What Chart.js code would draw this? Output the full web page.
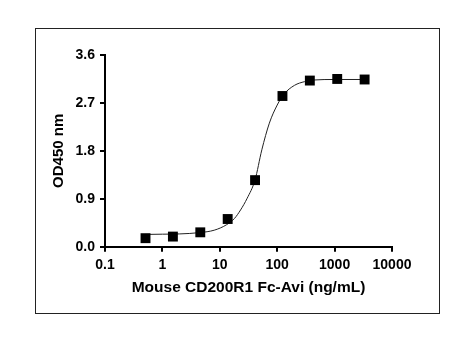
<!DOCTYPE html>
<html>
<head>
<meta charset="utf-8">
<script src="https://cdn.jsdelivr.net/npm/chart.js@4.4.1/dist/chart.umd.min.js"></script>
<style>
    html, body { margin: 0; padding: 0; background: #fff; }
    #wrap { position: relative; width: 475px; height: 349px; }
    #frame { position: absolute; left: 35px; top: 28px; width: 403px; height: 284px; border: 1px solid #222; pointer-events: none; }
</style>
</head>
<body>
<div id="wrap">
    <canvas id="chart" width="475" height="349"></canvas>
    <div id="frame"></div>
</div>
<script>
// measured points (3-fold dilution series)
const concentrations = [0.508, 1.524, 4.572, 13.72, 41.15, 123.5, 370.4, 1111, 3333];
const od450 = [0.16, 0.19, 0.27, 0.52, 1.25, 2.83, 3.12, 3.15, 3.14];

// fitted curve
const curveX = [0.5, 1, 2, 4.5, 8, 13, 18, 23, 30, 41, 54, 73, 100, 130, 200, 300, 430, 1000, 3333];
const curveY = [0.23, 0.235, 0.24, 0.265, 0.31, 0.41, 0.53, 0.69, 0.91, 1.25, 1.82, 2.32, 2.66, 2.86, 3.03, 3.10, 3.13, 3.14, 3.14];

const xTicks = [0.1, 1, 10, 100, 1000, 10000];
const xTickLabels = ['0.1', '1', '10', '100', '1000', '10000'];
const yTickLabels = ['0.0', '0.9', '1.8', '2.7', '3.6'];

const FONT = "'Liberation Sans', Arial, Helvetica, sans-serif";

const ctx = document.getElementById('chart').getContext('2d');

new Chart(ctx, {
    type: 'scatter',
    data: {
        datasets: [
            {
                label: 'fit',
                type: 'line',
                data: curveX.map((x, i) => ({ x: x, y: curveY[i] })),
                borderColor: '#222',
                borderWidth: 1,
                pointRadius: 0,
                cubicInterpolationMode: 'monotone',
                fill: false,
                order: 2
            },
            {
                label: 'OD450',
                data: concentrations.map((x, i) => ({ x: x, y: od450[i] })),
                pointStyle: 'rect',
                pointRadius: 7,
                backgroundColor: '#000',
                borderColor: '#000',
                borderWidth: 0,
                order: 1
            }
        ]
    },
    options: {
        responsive: false,
        animation: false,
        clip: false,
        layout: { padding: { left: 40, top: 55, right: 83, bottom: 40 } },
        plugins: {
            legend: { display: false },
            tooltip: { enabled: false }
        },
        scales: {
            x: {
                type: 'logarithmic',
                min: 0.1,
                max: 10000,
                afterBuildTicks: (scale) => {
                    scale.ticks = xTicks.map(v => ({ value: v }));
                },
                afterFit: (scale) => { scale.height = 349 - 40 - 246.7; },
                border: { display: true, color: '#000', width: 2 },
                grid: { display: true, drawOnChartArea: false, drawTicks: true, tickLength: 5, color: '#000', lineWidth: 2 },
                ticks: {
                    autoSkip: false,
                    maxRotation: 0,
                    padding: 5,
                    color: '#000',
                    font: { family: FONT, size: 14, weight: 'bold' },
                    callback: (v) => {
                        const i = xTicks.indexOf(v);
                        return i >= 0 ? xTickLabels[i] : '';
                    }
                },
                title: {
                    display: true,
                    text: 'Mouse CD200R1 Fc-Avi (ng/mL)',
                    color: '#000',
                    font: { family: FONT, size: 15.5, weight: 'bold', lineHeight: 1.2 },
                    padding: { top: 0, bottom: 12 }
                }
            },
            y: {
                type: 'linear',
                min: 0,
                max: 3.6,
                afterFit: (scale) => { scale.width = 105 - 40; },
                border: { display: true, color: '#000', width: 2 },
                grid: { display: true, drawOnChartArea: false, drawTicks: true, tickLength: 5, color: '#000', lineWidth: 2 },
                ticks: {
                    stepSize: 0.9,
                    padding: 5,
                    color: '#000',
                    font: { family: FONT, size: 14, weight: 'bold' },
                    callback: (v, i) => yTickLabels[i]
                },
                title: {
                    display: true,
                    text: 'OD450 nm',
                    color: '#000',
                    font: { family: FONT, size: 15, weight: 'bold', lineHeight: 1.2 },
                    padding: { top: 10, bottom: 0 }
                }
            }
        }
    }
});
</script>
</body>
</html>
